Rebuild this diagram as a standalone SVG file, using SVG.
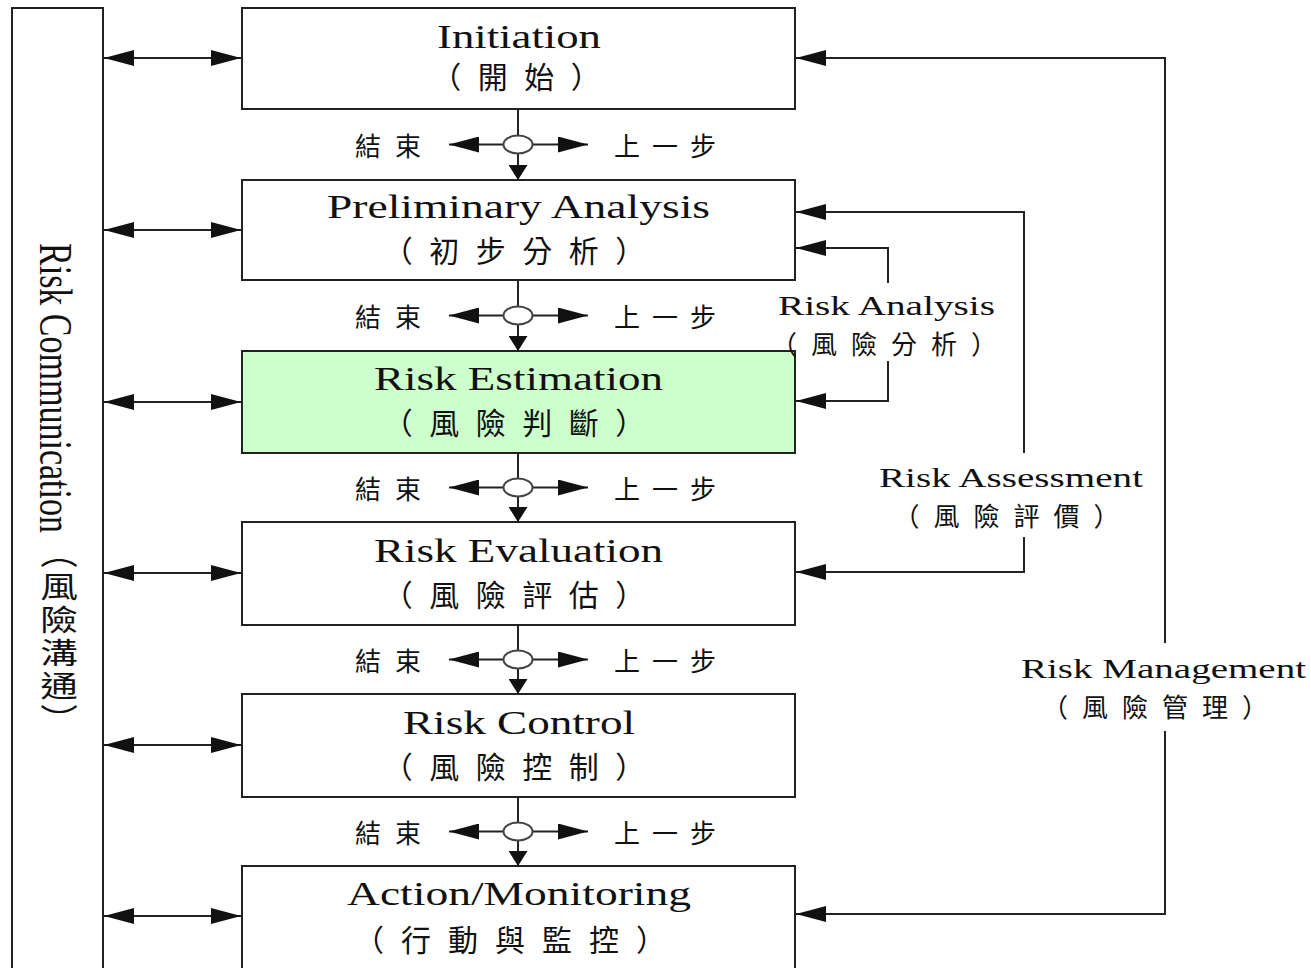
<svg xmlns="http://www.w3.org/2000/svg" width="1311" height="968" viewBox="0 0 1311 968">
  <style>
    .box { fill: #ffffff; stroke: #222222; stroke-width: 2; }
    .hl { fill: #ccffcc; }
    .ln { fill: none; stroke: #222222; stroke-width: 2; }
    .jn { fill: #ffffff; stroke: #444444; stroke-width: 2; }
    .en { font-family: 'Liberation Serif', 'Times New Roman', serif; fill: #111111; }
    .t1 { font-size: 34px; }
    .t2 { font-size: 28px; }
    .zh { font-family: 'Noto Sans CJK TC', 'Noto Sans CJK SC', sans-serif; fill: #111111; text-anchor: middle; dominant-baseline: central; }
    .z1 { font-size: 30px; }
    .z2 { font-size: 26px; }
  </style>
  <defs>
    <marker id="ah" viewBox="0 0 30 16" refX="30" refY="8" markerWidth="30" markerHeight="16" markerUnits="userSpaceOnUse" orient="auto-start-reverse">
      <path d="M0,0 L30,8 L0,16 Z" fill="#111111"/>
    </marker>
    <marker id="av" viewBox="0 0 15 19" refX="15" refY="9.5" markerWidth="15" markerHeight="19" markerUnits="userSpaceOnUse" orient="auto">
      <path d="M0,0 L15,9.5 L0,19 Z" fill="#111111"/>
    </marker>
  </defs>

  <rect width="1311" height="968" fill="#ffffff"/>

  <!-- side bar: risk communication -->
  <g id="communication">
    <rect class="box" x="12" y="8" width="91" height="975"/>
    <g transform="translate(57.5,0) scale(1.3,1) translate(-57.5,0)">
      <text class="en" font-size="36" textLength="290" lengthAdjust="spacingAndGlyphs" transform="translate(44,243) rotate(90)">Risk Communication</text>
      <text class="zh" x="58.7" y="539" font-size="29" letter-spacing="4" style="writing-mode: vertical-rl; text-anchor: start;">（風險溝通）</text>
    </g>
  </g>

  <!-- process steps -->
  <g id="initiation">
    <rect class="box" x="242" y="8" width="553" height="101"/>
    <text class="en t1" x="519" y="48" text-anchor="middle" textLength="164" lengthAdjust="spacingAndGlyphs">Initiation</text>
    <text class="zh z1" x="446.25 492.75 539.25 585.75" y="75">（開始）</text>
  </g>
  <g id="preliminary">
    <rect class="box" x="242" y="180" width="553" height="100"/>
    <text class="en t1" x="518.5" y="218" text-anchor="middle" textLength="383" lengthAdjust="spacingAndGlyphs">Preliminary Analysis</text>
    <text class="zh z1" x="397.75 444.25 490.75 537.25 583.75 630.25" y="249">（初步分析）</text>
  </g>
  <g id="estimation">
    <rect class="box hl" x="242" y="351" width="553" height="102"/>
    <text class="en t1" x="518.5" y="390" text-anchor="middle" textLength="289" lengthAdjust="spacingAndGlyphs">Risk Estimation</text>
    <text class="zh z1" x="397.75 444.25 490.75 537.25 583.75 630.25" y="421">（風險判斷）</text>
  </g>
  <g id="evaluation">
    <rect class="box" x="242" y="522" width="553" height="103"/>
    <text class="en t1" x="518.5" y="562" text-anchor="middle" textLength="289" lengthAdjust="spacingAndGlyphs">Risk Evaluation</text>
    <text class="zh z1" x="397.75 444.25 490.75 537.25 583.75 630.25" y="593">（風險評估）</text>
  </g>
  <g id="control">
    <rect class="box" x="242" y="694" width="553" height="103"/>
    <text class="en t1" x="519" y="734" text-anchor="middle" textLength="232" lengthAdjust="spacingAndGlyphs">Risk Control</text>
    <text class="zh z1" x="397.75 444.25 490.75 537.25 583.75 630.25" y="765">（風險控制）</text>
  </g>
  <g id="monitoring">
    <rect class="box" x="242" y="866" width="553" height="110"/>
    <text class="en t1" x="519" y="905" text-anchor="middle" textLength="344" lengthAdjust="spacingAndGlyphs">Action/Monitoring</text>
    <text class="zh z1" x="369 416 463 510 557 604 651" y="938">（行動與監控）</text>
  </g>

  <!-- connectors -->
  <g id="connectors">
    <!-- two-way links to the communication bar -->
    <line class="ln" x1="104" y1="58" x2="241" y2="58" marker-start="url(#ah)" marker-end="url(#ah)"/>
    <line class="ln" x1="104" y1="230" x2="241" y2="230" marker-start="url(#ah)" marker-end="url(#ah)"/>
    <line class="ln" x1="104" y1="402" x2="241" y2="402" marker-start="url(#ah)" marker-end="url(#ah)"/>
    <line class="ln" x1="104" y1="573" x2="241" y2="573" marker-start="url(#ah)" marker-end="url(#ah)"/>
    <line class="ln" x1="104" y1="745" x2="241" y2="745" marker-start="url(#ah)" marker-end="url(#ah)"/>
    <line class="ln" x1="104" y1="916" x2="241" y2="916" marker-start="url(#ah)" marker-end="url(#ah)"/>

    <!-- decision junctions between steps -->
    <g id="j1">
      <line class="ln" x1="518" y1="109" x2="518" y2="135.5"/>
      <line class="ln" x1="518" y1="153.5" x2="518" y2="180" marker-end="url(#av)"/>
      <line class="ln" x1="503.5" y1="144.5" x2="449" y2="144.5" marker-end="url(#ah)"/>
      <line class="ln" x1="532.5" y1="144.5" x2="588" y2="144.5" marker-end="url(#ah)"/>
      <ellipse class="jn" cx="518" cy="144.5" rx="14.5" ry="9"/>
    </g>
    <g id="j2">
      <line class="ln" x1="518" y1="280" x2="518" y2="306.5"/>
      <line class="ln" x1="518" y1="324.5" x2="518" y2="351" marker-end="url(#av)"/>
      <line class="ln" x1="503.5" y1="315.5" x2="449" y2="315.5" marker-end="url(#ah)"/>
      <line class="ln" x1="532.5" y1="315.5" x2="588" y2="315.5" marker-end="url(#ah)"/>
      <ellipse class="jn" cx="518" cy="315.5" rx="14.5" ry="9"/>
    </g>
    <g id="j3">
      <line class="ln" x1="518" y1="453" x2="518" y2="478.5"/>
      <line class="ln" x1="518" y1="496.5" x2="518" y2="522" marker-end="url(#av)"/>
      <line class="ln" x1="503.5" y1="487.5" x2="449" y2="487.5" marker-end="url(#ah)"/>
      <line class="ln" x1="532.5" y1="487.5" x2="588" y2="487.5" marker-end="url(#ah)"/>
      <ellipse class="jn" cx="518" cy="487.5" rx="14.5" ry="9"/>
    </g>
    <g id="j4">
      <line class="ln" x1="518" y1="625" x2="518" y2="650.5"/>
      <line class="ln" x1="518" y1="668.5" x2="518" y2="694" marker-end="url(#av)"/>
      <line class="ln" x1="503.5" y1="659.5" x2="449" y2="659.5" marker-end="url(#ah)"/>
      <line class="ln" x1="532.5" y1="659.5" x2="588" y2="659.5" marker-end="url(#ah)"/>
      <ellipse class="jn" cx="518" cy="659.5" rx="14.5" ry="9"/>
    </g>
    <g id="j5">
      <line class="ln" x1="518" y1="797" x2="518" y2="822.5"/>
      <line class="ln" x1="518" y1="840.5" x2="518" y2="866" marker-end="url(#av)"/>
      <line class="ln" x1="503.5" y1="831.5" x2="449" y2="831.5" marker-end="url(#ah)"/>
      <line class="ln" x1="532.5" y1="831.5" x2="588" y2="831.5" marker-end="url(#ah)"/>
      <ellipse class="jn" cx="518" cy="831.5" rx="14.5" ry="9"/>
    </g>

    <!-- scope brackets on the right -->
    <path class="ln" d="M888,283 V248 H796" marker-end="url(#ah)"/>
    <path class="ln" d="M888,361 V401 H796" marker-end="url(#ah)"/>
    <path class="ln" d="M1024,453 V212 H796" marker-end="url(#ah)"/>
    <path class="ln" d="M1024,537 V572 H796" marker-end="url(#ah)"/>
    <path class="ln" d="M1165,643 V58 H796" marker-end="url(#ah)"/>
    <path class="ln" d="M1165,731 V914 H796" marker-end="url(#ah)"/>
  </g>

  <!-- junction outcome labels -->
  <g id="junction-labels">
    <text class="zh z2" x="368 408" y="144.5">結束</text>
    <text class="zh z2" x="627 665 703" y="144.5">上一步</text>
    <text class="zh z2" x="368 408" y="315.5">結束</text>
    <text class="zh z2" x="627 665 703" y="315.5">上一步</text>
    <text class="zh z2" x="368 408" y="487.5">結束</text>
    <text class="zh z2" x="627 665 703" y="487.5">上一步</text>
    <text class="zh z2" x="368 408" y="659.5">結束</text>
    <text class="zh z2" x="627 665 703" y="659.5">上一步</text>
    <text class="zh z2" x="368 408" y="831.5">結束</text>
    <text class="zh z2" x="627 665 703" y="831.5">上一步</text>
  </g>

  <!-- scope labels -->
  <g id="analysis-label">
    <text class="en t2" x="886.5" y="315" text-anchor="middle" textLength="217" lengthAdjust="spacingAndGlyphs">Risk Analysis</text>
    <text class="zh z2" x="784 824 864 904 944 984" y="342">（風險分析）</text>
  </g>
  <g id="assessment-label">
    <text class="en t2" x="1011" y="487" text-anchor="middle" textLength="264" lengthAdjust="spacingAndGlyphs">Risk Assessment</text>
    <text class="zh z2" x="906.5 946.5 986.5 1026.5 1066.5 1106.5" y="514">（風險評價）</text>
  </g>
  <g id="management-label">
    <text class="en t2" x="1163.5" y="678" text-anchor="middle" textLength="285" lengthAdjust="spacingAndGlyphs">Risk Management</text>
    <text class="zh z2" x="1055 1095 1135 1175 1215 1255" y="705">（風險管理）</text>
  </g>
</svg>
